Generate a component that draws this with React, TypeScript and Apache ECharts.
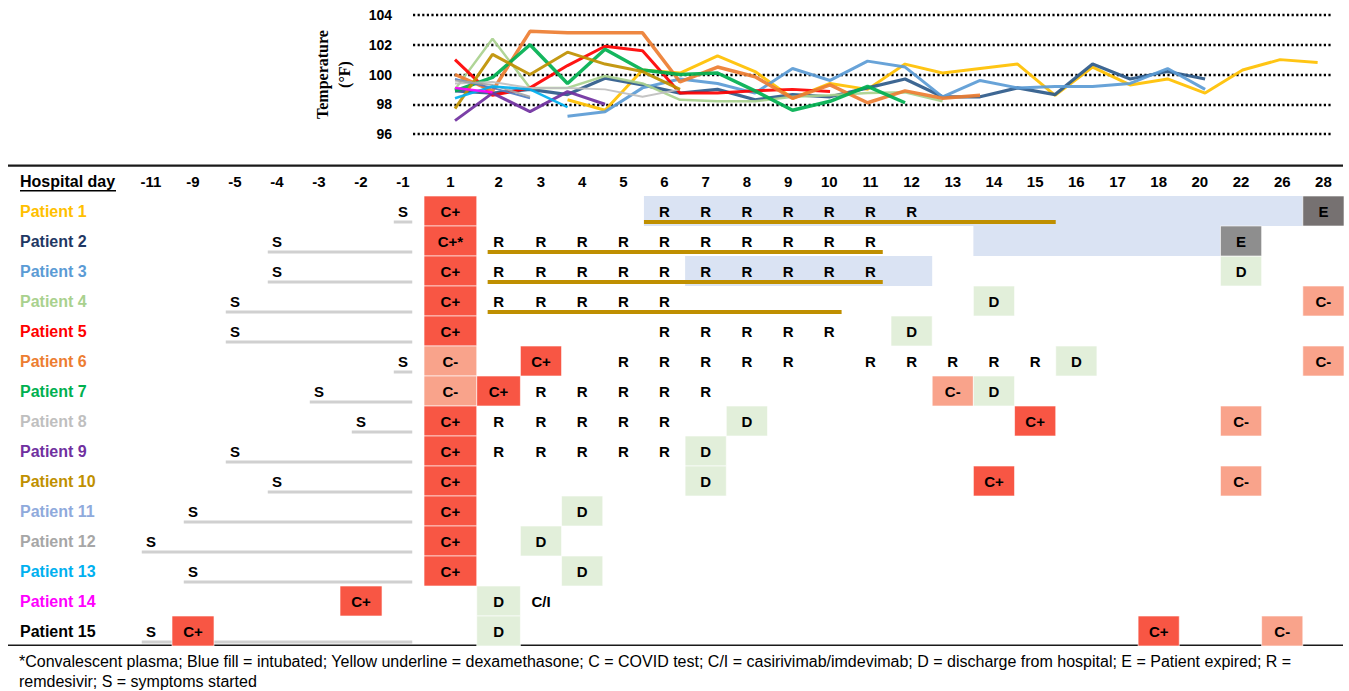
import React, { useEffect, useRef } from 'react';
import * as echarts from 'echarts';

// ---------- DATA ----------
const dayColumns = ['-11','-9','-5','-4','-3','-2','-1','1','2','3','4','5','6','7','8','9','10','11','12','13','14','15','16','17','18','20','22','26','28'];
const rowLabels = ['Hospital day','Patient 1','Patient 2','Patient 3','Patient 4','Patient 5','Patient 6','Patient 7','Patient 8','Patient 9','Patient 10','Patient 11','Patient 12','Patient 13','Patient 14','Patient 15'];
const patientColors = ['#FFC000','#1F3864','#5B9BD5','#A9D18E','#FF0000','#ED7D31','#00B050','#BFBFBF','#7030A0','#BF9000','#8FAADC','#A6A6A6','#00B0F0','#FF00FF','#000000'];
const lineColors = ['#FFC000','#2E5A8A','#5B9BD5','#A9D18E','#FF0000','#ED7D31','#00B050','#BFBFBF','#7030A0','#BF9000','#4F7BC0','#A6A6A6','#00B0F0','#FF00FF'];

// [patient, day]
const symptomStart: [number, string][] = [[1,'-1'],[2,'-4'],[3,'-4'],[4,'-5'],[5,'-5'],[6,'-1'],[7,'-3'],[8,'-2'],[9,'-5'],[10,'-4'],[11,'-9'],[12,'-11'],[13,'-9'],[15,'-11']];
// [patient, day, result]
const covidTests: [number, string, string][] = [
  [1,'1','C+'],[2,'1','C+*'],[3,'1','C+'],[4,'1','C+'],[4,'28','C-'],[5,'1','C+'],
  [6,'1','C-'],[6,'3','C+'],[6,'28','C-'],[7,'1','C-'],[7,'2','C+'],[7,'13','C-'],
  [8,'1','C+'],[8,'15','C+'],[8,'22','C-'],[9,'1','C+'],[10,'1','C+'],[10,'14','C+'],[10,'22','C-'],
  [11,'1','C+'],[12,'1','C+'],[13,'1','C+'],[14,'-2','C+'],[15,'-9','C+'],[15,'18','C+'],[15,'26','C-']
];
const discharges: [number, string][] = [[3,'22'],[4,'14'],[5,'12'],[6,'16'],[7,'14'],[8,'8'],[9,'7'],[10,'7'],[11,'4'],[12,'3'],[13,'4'],[14,'2'],[15,'2']];
const expired: [number, string][] = [[1,'28'],[2,'22']];
const remdesivir: [number, string[]][] = [
  [1,['6','7','8','9','10','11','12']],
  [2,['2','3','4','5','6','7','8','9','10','11']],
  [3,['2','3','4','5','6','7','8','9','10','11']],
  [4,['2','3','4','5','6']],
  [5,['6','7','8','9','10']],
  [6,['5','6','7','8','9','11','12','13','14','15']],
  [7,['3','4','5','6','7']],
  [8,['2','3','4','5','6']],
  [9,['2','3','4','5','6']]
];
const casirivimab: [number, string][] = [[14,'3']];
const intubated: [number, string, string][] = [[1,'6','26'],[2,'14','20'],[3,'7','12']];
const dexamethasone: [number, string, string][] = [[1,'6','15'],[2,'2','11'],[3,'2','11'],[4,'2','10']];

const tempTicks = [96, 98, 100, 102, 104];
// temperature (°F) by hospital day 1..24
const temp1 = [null,null,null,98.3,97.6,100.3,100.1,101.25,100.2,98.4,99.4,99.0,100.7,100.1,100.4,100.7,98.6,100.5,99.3,99.7,98.75,100.3,101.0,100.8];
const temp2 = [98.9,98.75,99.0,98.65,99.75,99.3,98.75,99.0,98.3,98.65,98.5,99.1,99.7,98.5,98.5,99.1,98.65,100.7,99.7,100.2,99.7];
const temp3 = [null,null,null,97.2,97.5,99.1,99.7,99.4,98.75,100.4,99.6,100.9,100.5,98.5,99.6,99.1,99.2,99.2,99.4,100.4,99.0];
const temp4 = [99.0,102.4,99.1,99.1,99.9,99.4,98.3,98.2,98.2,98.5,98.6,98.75,98.8,98.2];
const temp5 = [101.0,98.6,99.1,100.6,101.9,101.6,98.75,98.75,98.9,99.0,98.85];
const temp6 = [100.0,98.9,102.9,102.8,102.8,102.8,99.5,100.5,99.85,98.4,99.3,98.1,98.9,98.4,98.6];
const temp7 = [98.9,99.8,102.0,99.4,101.7,100.3,100.0,100.1,98.9,97.6,98.2,99.2,98.1];
const temp8 = [99.4,99.5,99.1,99.1,99.0,98.5,99.0];
const temp9 = [96.9,98.75,97.5,98.85,98.0];
const temp10 = [97.7,101.35,100.0,101.5,100.7,100.2,99.0];
const temp11 = [99.7,99.1,98.4];
const temp12 = [99.6,99.3,98.5];
const temp13 = [98.4,99.2,99.0,97.8];
const temp14 = [99.1,98.8];
const temps = [temp1,temp2,temp3,temp4,temp5,temp6,temp7,temp8,temp9,temp10,temp11,temp12,temp13,temp14];

const footnote = '*Convalescent plasma; Blue fill = intubated; Yellow underline = dexamethasone; C = COVID test; C/I = casirivimab/imdevimab; D = discharge from hospital; E = Patient expired; R =\nremdesivir; S = symptoms started';

// ---------- LAYOUT / STYLE ----------
const FONT = '"Liberation Sans", Arial, sans-serif';
const lineWidths = [3,3.2,3,2.5,3,3.5,3.5,2,3,3,2,2,2.5,2.5];
const colWeights = dayColumns.map(d => (d === '1' ? 1.28 : d === '2' ? 1.06 : d.startsWith('-') ? 1.02 : 1));
const colStart: number[] = [];
let accW = 0;
for (const w of colWeights) { colStart.push(accW); accW += w; }
const totalW = accW;
const ci = (d: string) => dayColumns.indexOf(d);
const mid = (c: number) => colStart[c] + colWeights[c] / 2;

const C_POS = '#F85644';
const C_NEG = '#F9A38B';
const D_FILL = '#E2EFDA';
const E_FILLS = ['#767171', '#8E8E8E'];
const INTUB = '#DAE3F3';

export default function App() {
  const ref = useRef<HTMLDivElement>(null);
  useEffect(() => {
    const chart = echarts.init(ref.current!, null, { renderer: 'svg' });

    const cellItems: { p: number; c: number; label: string; fill: string }[] = [];
    covidTests.forEach(([p, d, l]) => cellItems.push({ p, c: ci(d), label: l, fill: l.startsWith('C+') ? C_POS : C_NEG }));
    discharges.forEach(([p, d]) => cellItems.push({ p, c: ci(d), label: 'D', fill: D_FILL }));
    expired.forEach(([p, d], i) => cellItems.push({ p, c: ci(d), label: 'E', fill: E_FILLS[i] }));

    const textItems: { p: number; c: number; label: string }[] = [];
    remdesivir.forEach(([p, ds]) => ds.forEach(d => textItems.push({ p, c: ci(d), label: 'R' })));
    symptomStart.forEach(([p, d]) => textItems.push({ p, c: ci(d), label: 'S' }));
    casirivimab.forEach(([p, d]) => textItems.push({ p, c: ci(d), label: 'C/I' }));
    dayColumns.forEach((d, c) => textItems.push({ p: 0, c, label: d }));

    const lastPre = ci('-1');
    const intubData = intubated.map(([p, a, b]) => [colStart[ci(a)], p, colStart[ci(b)] + colWeights[ci(b)]]);
    const sympData = symptomStart.map(([p, d]) => [colStart[ci(d)] + 0.28 * colWeights[ci(d)], p, colStart[lastPre] + 0.72 * colWeights[lastPre]]);
    const dexData = dexamethasone.map(([p, a, b]) => [colStart[ci(a)] + (a === '6' ? 0 : 0.25 * colWeights[ci(a)]), p, colStart[ci(b)] + (b === '15' ? 1 : 0.8) * colWeights[ci(b)]]);

    const spanRender = (fill: string, dy: number, hgt: number | null) => (params: any, api: any) => {
      const a = api.coord([api.value(0), api.value(1)]);
      const b = api.coord([api.value(2), api.value(1)]);
      const h = api.size([0, 1])[1];
      const y = hgt == null ? a[1] - h / 2 : a[1] + dy;
      return { type: 'rect', shape: { x: a[0], y, width: b[0] - a[0], height: hgt == null ? h : hgt }, style: { fill } };
    };

    const tempSeries = temps.map((arr, i) => ({
      type: 'line',
      name: rowLabels[i + 1],
      xAxisIndex: 0,
      yAxisIndex: 0,
      showSymbol: false,
      symbol: 'none',
      data: arr.map((v, k) => [k + 1, v]),
      lineStyle: { color: lineColors[i], width: lineWidths[i], opacity: 0.92 },
      itemStyle: { color: lineColors[i] },
      z: 3,
    }));

    const rich: any = {};
    rowLabels.forEach((_, i) => {
      rich['r' + i] = { color: i === 0 ? '#000' : patientColors[i - 1], fontWeight: 'bold', fontSize: 16, fontFamily: FONT };
    });

    const option: any = {
      animation: false,
      grid: [
        { left: 413, right: 16, top: 15, bottom: 557 },
        { left: 130, right: 5, top: 166, bottom: 45 },
      ],
      xAxis: [
        { type: 'value', gridIndex: 0, min: -0.12, max: 24.41, show: false },
        { type: 'value', gridIndex: 1, min: 0, max: totalW, show: false },
      ],
      yAxis: [
        {
          type: 'value', gridIndex: 0, min: tempTicks[0], max: tempTicks[tempTicks.length - 1], interval: 2,
          axisLine: { show: false }, axisTick: { show: false },
          axisLabel: { fontFamily: FONT, fontWeight: 'bold', fontSize: 14, color: '#000', margin: 21 },
          splitLine: { lineStyle: { color: '#000', width: 2.4, type: [2.2, 2.4] } },
          name: 'Temperature\n(°F)', nameLocation: 'middle', nameRotate: 90, nameGap: 58,
          nameTextStyle: { fontFamily: '"Liberation Serif", "Times New Roman", serif', fontWeight: 'bold', fontSize: 16, color: '#000', lineHeight: 22 },
        },
        {
          type: 'category', gridIndex: 1, data: rowLabels, inverse: true,
          axisLine: { show: false }, axisTick: { show: false }, splitLine: { show: false },
          axisLabel: { align: 'left', margin: 110, formatter: (v: string, i: number) => `{r${i}|${v}}`, rich },
        },
      ],
      series: [
        ...tempSeries,
        {
          type: 'custom', name: 'Intubated', xAxisIndex: 1, yAxisIndex: 1, clip: false,
          data: intubData, encode: { x: [0, 2], y: 1 }, z: 1,
          renderItem: spanRender(INTUB, 0, null),
        },
        {
          type: 'custom', name: 'Symptoms', xAxisIndex: 1, yAxisIndex: 1, clip: false,
          data: sympData, encode: { x: [0, 2], y: 1 }, z: 2,
          renderItem: spanRender('#D0D0D0', 9.5, 3),
        },
        {
          type: 'custom', name: 'Cells', xAxisIndex: 1, yAxisIndex: 1, clip: false,
          data: cellItems.map(it => [mid(it.c), it.p]), encode: { x: 0, y: 1 }, z: 4,
          renderItem: (params: any, api: any) => {
            const it = cellItems[params.dataIndex];
            const x0 = api.coord([colStart[it.c], it.p])[0];
            const x1 = api.coord([colStart[it.c] + colWeights[it.c], it.p])[0];
            const yc = api.coord([0, it.p])[1];
            const h = api.size([0, 1])[1];
            return {
              type: 'group',
              children: [
                { type: 'rect', shape: { x: x0, y: yc - h / 2, width: x1 - x0, height: h }, style: { fill: it.fill, stroke: 'rgba(255,255,255,0.6)', lineWidth: 1 } },
                { type: 'text', style: { text: it.label, x: (x0 + x1) / 2, y: yc, align: 'center', verticalAlign: 'middle', fontFamily: FONT, fontWeight: 'bold', fontSize: 15, fill: '#000' } },
              ],
            };
          },
        },
        {
          type: 'custom', name: 'Dexamethasone', xAxisIndex: 1, yAxisIndex: 1, clip: false,
          data: dexData, encode: { x: [0, 2], y: 1 }, z: 5,
          renderItem: spanRender('#BF8F00', 9, 4),
        },
        {
          type: 'custom', name: 'Labels', xAxisIndex: 1, yAxisIndex: 1, clip: false,
          data: textItems.map(it => [mid(it.c), it.p]), encode: { x: 0, y: 1 }, z: 6,
          renderItem: (params: any, api: any) => {
            const it = textItems[params.dataIndex];
            const p = api.coord([mid(it.c), it.p]);
            return { type: 'text', style: { text: it.label, x: p[0], y: p[1], align: 'center', verticalAlign: 'middle', fontFamily: FONT, fontWeight: 'bold', fontSize: 15, fill: '#000' } };
          },
        },
      ],
      graphic: [
        { type: 'rect', shape: { x: 8, y: 164.5, width: 1335, height: 2.2 }, style: { fill: '#1a1a1a' } },
        { type: 'rect', shape: { x: 8, y: 644.5, width: 1335, height: 1.6 }, style: { fill: '#1a1a1a' } },
        { type: 'rect', shape: { x: 20, y: 190, width: 96, height: 1.5 }, style: { fill: '#000' } },
        { type: 'text', x: 19, y: 651, style: { text: footnote, fontFamily: FONT, fontSize: 16, lineHeight: 20, fill: '#000' } },
      ],
    };
    chart.setOption(option);
    return () => chart.dispose();
  }, []);
  return <div ref={ref} style={{ position: 'absolute', left: 0, top: 0, width: 1349, height: 691 }} />;
}
